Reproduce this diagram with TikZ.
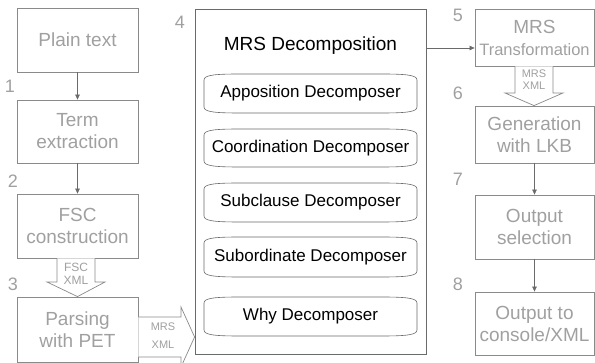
\documentclass[tikz,border=0pt]{standalone}
\usepackage{fontspec}
\setmainfont{Liberation Sans}
\usetikzlibrary{arrows.meta}
\definecolor{stepgray}{HTML}{A0A0A0}
\definecolor{edgegray}{HTML}{8A8A8A}
\definecolor{darkedge}{HTML}{6A6A6A}
\tikzset{
  stagebox/.style={draw=edgegray, line width=0.8pt, text=stepgray, align=center,
    inner sep=0pt, font=\fontsize{19}{22}\selectfont},
  stepnum/.style={text=stepgray, font=\fontsize{18}{20}\selectfont, inner sep=0pt},
  flow/.style={draw=darkedge, line width=0.6pt, -{Triangle[length=5pt,width=4.5pt]}},
  bigarrow/.style={draw=edgegray, line width=0.7pt, fill=white},
  arrowtext/.style={text=stepgray, align=center, inner sep=0pt,
    font=\fontsize{11}{12.5}\selectfont},
  decomp/.style={draw=darkedge, line width=0.6pt},
  decomptext/.style={text=black, inner sep=0pt, font=\fontsize{17}{19}\selectfont},
}
% a box whose top and bottom edges bow slightly outwards
\newcommand{\decompbox}[4]{%
  \draw[decomp] (204,#3-6) -- (204,#2+6)
    .. controls (204,#2+1) and (215,#2) .. (240,#2) -- (381,#2)
    .. controls (406,#2) and (417,#2+1) .. (417,#2+6) -- (417,#3-6)
    .. controls (417,#3-1) and (406,#3) .. (381,#3) -- (240,#3)
    .. controls (215,#3) and (204,#3-1) .. (204,#3-6) -- cycle;
  \node[decomptext] (#1) at (310.5,{(#2+#3)/2}) {#4};}
\begin{document}
\begin{tikzpicture}[x=1pt,y=-1pt]
\useasboundingbox (0,0) rectangle (595,363);

% left column
\node[stagebox, minimum width=121pt, minimum height=64pt] (plain) at (77.5,40) {Plain text};
\node[stagebox, minimum width=121pt, minimum height=63pt] (term) at (77.5,131.5) {Term\\extraction};
\node[stagebox, minimum width=121pt, minimum height=64pt] (fsc) at (77.5,226) {FSC\\construction};
\node[stagebox, minimum width=121pt, minimum height=65pt] (parse) at (77.5,329.5) {Parsing\\with PET};

% decomposition block
\node[draw=darkedge, line width=0.8pt, minimum width=231pt, minimum height=345pt, inner sep=0pt] (mrsd) at (310.5,181.5) {};
\node[text=black, inner sep=0pt, font=\fontsize{19}{22}\selectfont] (mrsdtitle) at (310.5,46) {MRS Decomposition};
\decompbox{appos}{74}{113}{Apposition Decomposer}
\decompbox{coord}{129}{167}{Coordination Decomposer}
\decompbox{subcl}{183}{222}{Subclause Decomposer}
\decompbox{subord}{237}{277}{Subordinate Decomposer}
\decompbox{why}{297}{336}{Why Decomposer}

% right column
\node[stagebox, minimum width=119pt, minimum height=57pt] (trans) at (534.5,37.5) {MRS\\\fontsize{16.5}{19}\selectfont Transformation};
\node[stagebox, minimum width=119pt, minimum height=57pt] (gen) at (534.5,134.5) {Generation\\with LKB};
\node[stagebox, minimum width=119pt, minimum height=64pt] (sel) at (534.5,227) {Output\\selection};
\node[stagebox, minimum width=119pt, minimum height=63pt] (out) at (534.5,323.5) {Output to\\console/XML};

% step numbers
\node[stepnum] (n1) at (10,86) {1};
\node[stepnum] (n2) at (13,181) {2};
\node[stepnum] (n3) at (13,284) {3};
\node[stepnum] (n4) at (180,22) {4};
\node[stepnum] (n5) at (458,15) {5};
\node[stepnum] (n6) at (458,93) {6};
\node[stepnum] (n7) at (458,179) {7};
\node[stepnum] (n8) at (458,284) {8};

% thin connectors
\draw[flow] (plain.south) -- (term.north);
\draw[flow] (term.south) -- (fsc.north);
\draw[flow] (mrsd.east |- 0,48) -- (trans.west |- 0,48);
\draw[flow] (gen.south) -- (sel.north);
\draw[flow] (sel.south) -- (out.north);

% hollow data arrows
\draw[bigarrow] (fsc.south -| 57,0) -- (57,282) -- (47,282) -- (parse.north) -- (105,282) -- (95,282) -- (fsc.south -| 95,0);
\node[arrowtext, font=\fontsize{12}{13}\selectfont] (fscxml) at (76,274) {FSC\\XML};

\draw[bigarrow] (parse.east |- 0,317) -- (181,317) -- (181,307) -- (mrsd.west |- 0,337) -- (181,367) -- (181,357) -- (parse.east |- 0,357);
\node[arrowtext, font=\fontsize{11}{18}\selectfont] (mrsxml1) at (163,336) {MRS\\XML};

\draw[bigarrow] (trans.south -| 515,0) -- (515,93) -- (505,93) -- (gen.north -| 534,0) -- (563,93) -- (553,93) -- (trans.south -| 553,0);
\node[arrowtext] (mrsxml2) at (534,79.5) {MRS\\XML};
\end{tikzpicture}
\end{document}
